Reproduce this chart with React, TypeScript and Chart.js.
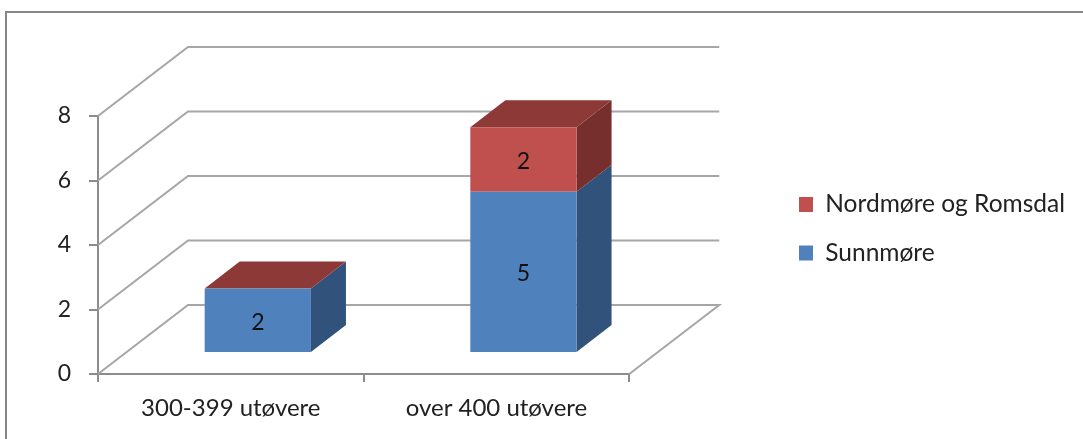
import { useEffect, useRef } from "react";
import { Chart, registerables } from "chart.js";

Chart.register(...registerables);

const categories = ["300-399 utøvere", "over 400 utøvere"];
const sunnmore = [2, 5];
const nordmoreRomsdal = [0, 2];
const yTicks = [0, 2, 4, 6, 8];
const seriesNames = ["Sunnmøre", "Nordmøre og Romsdal"];

const FONT = "Lato";
const AXIS = "#8c8c8c";
const TEXT = "#222222";
const WALL = { dx: 90, dy: -69 };
const BAR_OFFSET = { dx: 27, dy: -21 };
const BAR_DEPTH = { dx: 35, dy: -27 };
const SIDE = ["#31527a", "#772f2d"];
const TOP = "#8d3937";

function poly(ctx: CanvasRenderingContext2D, pts: number[][], fill: string) {
  ctx.beginPath();
  pts.forEach(([x, y], i) => (i ? ctx.lineTo(x, y) : ctx.moveTo(x, y)));
  ctx.closePath();
  ctx.fillStyle = fill;
  ctx.fill();
}

const frame3d = {
  id: "frame3d",
  afterLayout(chart: any) {
    // Legend sits apart from the plot, at a fixed spot in the right margin.
    const lg = chart.legend;
    const pad = lg.options.labels.padding;
    lg.left = 799 - pad;
    lg.right = chart.width;
    lg.top = 204.5 - pad - lg.options.labels.font.size / 2;
    lg.bottom = 439;
  },
  beforeDraw(chart: any) {
    const { ctx, width, height } = chart;
    ctx.save();
    ctx.strokeStyle = "#868686";
    ctx.lineWidth = 2;
    ctx.beginPath();
    ctx.moveTo(6, height);
    ctx.lineTo(6, 12);
    ctx.lineTo(width, 12);
    ctx.stroke();
    ctx.restore();
  },
  beforeDatasetsDraw(chart: any) {
    const { ctx, scales } = chart;
    const x = scales.x;
    const y = scales.y;
    ctx.save();
    // Back wall gridlines with their diagonals running out to the front plane.
    ctx.strokeStyle = "#a6a6a6";
    ctx.lineWidth = 2;
    for (const v of yTicks) {
      const py = y.getPixelForValue(v);
      ctx.beginPath();
      ctx.moveTo(x.left, py);
      ctx.lineTo(x.left + WALL.dx, py + WALL.dy);
      ctx.lineTo(x.right + WALL.dx, py + WALL.dy);
      if (v === 0) ctx.lineTo(x.right, py);
      ctx.stroke();
    }
    ctx.restore();

    // Bars are shifted onto the floor; side and top faces go under the native fronts.
    ctx.save();
    ctx.translate(BAR_OFFSET.dx, BAR_OFFSET.dy);
    const { dx, dy } = BAR_DEPTH;
    categories.forEach((_, c) => {
      let topEl: any = null;
      chart.data.datasets.forEach((_d: any, s: number) => {
        const el = chart.getDatasetMeta(s).data[c];
        const r = el.x + el.width / 2;
        if (el.base - el.y > 0) {
          poly(ctx, [[r, el.y], [r + dx, el.y + dy], [r + dx, el.base + dy], [r, el.base]], SIDE[s]);
        }
        topEl = el;
      });
      const l = topEl.x - topEl.width / 2;
      const r = topEl.x + topEl.width / 2;
      poly(ctx, [[l, topEl.y], [l + dx, topEl.y + dy], [r + dx, topEl.y + dy], [r, topEl.y]], TOP);
    });
  },
  afterDatasetsDraw(chart: any) {
    const { ctx } = chart;
    ctx.font = `23px ${FONT}`;
    ctx.fillStyle = "#111111";
    ctx.textAlign = "center";
    ctx.textBaseline = "middle";
    chart.data.datasets.forEach((d: any, s: number) => {
      chart.getDatasetMeta(s).data.forEach((el: any, c: number) => {
        if (d.data[c] > 0) ctx.fillText(String(d.data[c]), el.x, (el.y + el.base) / 2 + 2);
      });
    });
    ctx.restore();
  },
};

export default function App() {
  const ref = useRef<HTMLCanvasElement>(null);
  useEffect(() => {
    document.body.style.margin = "0";
    const chart = new Chart(ref.current!, {
      type: "bar",
      data: {
        labels: categories,
        datasets: [
          { label: seriesNames[0], data: sunnmore, backgroundColor: "#4f81bd", stack: "s" },
          { label: seriesNames[1], data: nordmoreRomsdal, backgroundColor: "#c0504d", stack: "s" },
        ],
      },
      options: {
        responsive: false,
        animation: false,
        layout: { padding: { top: 116, right: 244, left: 0, bottom: 0 } },
        datasets: { bar: { barPercentage: 0.4, categoryPercentage: 1 } },
        plugins: {
          tooltip: { enabled: false },
          title: { display: false },
          legend: {
            position: "right",
            align: "start",
            reverse: true,
            labels: {
              boxWidth: 14,
              boxHeight: 15,
              padding: 24,
              color: TEXT,
              font: { family: FONT, size: 24.5 },
            },
          },
        },
        scales: {
          x: {
            stacked: true,
            grid: { drawOnChartArea: false, color: AXIS, lineWidth: 2, tickLength: 8 },
            border: { color: AXIS, width: 2 },
            ticks: { color: TEXT, font: { family: FONT, size: 24 }, padding: 12, maxRotation: 0 },
            afterFit: (s: any) => { s.height = 65; },
          },
          y: {
            stacked: true,
            min: 0,
            max: 8,
            grid: { drawOnChartArea: false, color: AXIS, lineWidth: 2, tickLength: 9 },
            border: { color: AXIS, width: 2 },
            ticks: {
              color: TEXT,
              stepSize: 2,
              font: { family: FONT, size: 23 },
              padding: 18,
            },
            afterFit: (s: any) => { s.width = 98; },
          },
        },
      },
      plugins: [frame3d],
    } as any);
    return () => chart.destroy();
  }, []);
  return <canvas ref={ref} width={1083} height={439} style={{ display: "block" }} />;
}
